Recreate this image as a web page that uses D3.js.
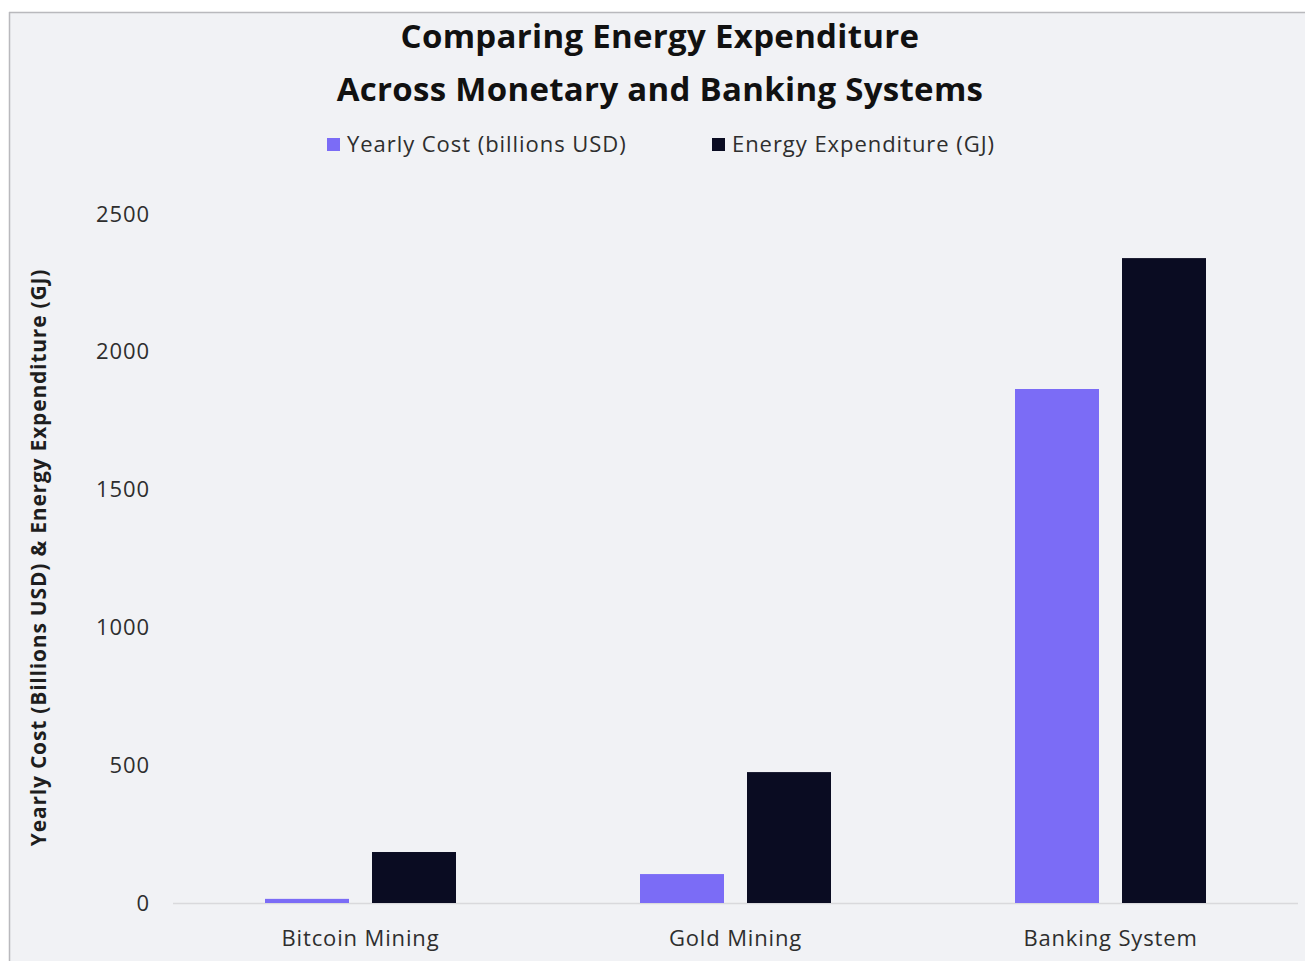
<!DOCTYPE html>
<html>
<head>
<meta charset="utf-8">
<script src="https://cdn.jsdelivr.net/npm/d3@7"></script>
<style>
  html, body { margin: 0; padding: 0; background: #ffffff; }
  svg { display: block; }
</style>
</head>
<body>
<svg id="chart" width="1305" height="961"></svg>
<script>
// Chart data
const categories = ["Bitcoin Mining", "Gold Mining", "Banking System"];
const seriesNames = ["Yearly Cost (billions USD)", "Energy Expenditure (GJ)"];
const yearlyCost = [15, 105, 1865];
const energyExpenditure = [185, 475, 2340];
const yTicks = [0, 500, 1000, 1500, 2000, 2500];
const titleLines = ["Comparing Energy Expenditure", "Across Monetary and Banking Systems"];
const yAxisTitle = "Yearly Cost (Billions USD) & Energy Expenditure (GJ)";

const colors = ["#7b6cf6", "#0a0c22"];
const W = 1305, H = 961;
const svg = d3.select("#chart");

// Panel background with thin frame on top and left
svg.append("rect").attr("x", 9).attr("y", 12).attr("width", W - 9).attr("height", H - 12)
  .attr("fill", "#f1f2f5");
svg.append("line").attr("x1", 9).attr("x2", W).attr("y1", 12.5).attr("y2", 12.5)
  .attr("stroke", "#b9b9bd").attr("stroke-width", 1.5);
svg.append("line").attr("x1", 9.5).attr("x2", 9.5).attr("y1", 12).attr("y2", H)
  .attr("stroke", "#b9b9bd").attr("stroke-width", 1.5);

const font = "'Open Sans', 'Noto Sans', sans-serif";
const margin = { left: 173, right: 7, top: 214, bottom: 58 };

const x0 = d3.scaleBand().domain(categories)
  .range([margin.left, W - margin.right]).paddingInner(0).paddingOuter(0);
const x1 = d3.scaleBand().domain(seriesNames)
  .range([0, 191]).paddingInner(0.215);
const y = d3.scaleLinear().domain([0, 2500]).range([H - margin.bottom, margin.top]);

// Title
svg.append("g").selectAll("text").data(titleLines).join("text")
  .attr("x", 660).attr("y", (d, i) => 48 + i * 53)
  .attr("text-anchor", "middle")
  .attr("font-family", font).attr("font-weight", 700).attr("font-size", 33)
  .attr("letter-spacing", 0.3)
  .attr("fill", "#111111").text(d => d);

// Legend
const legendX = [327, 712];
const legend = svg.append("g").selectAll("g").data(seriesNames).join("g")
  .attr("transform", (d, i) => `translate(${legendX[i]},138)`);
legend.append("rect").attr("width", 13).attr("height", 13).attr("fill", (d, i) => colors[i]);
legend.append("text").attr("x", 20).attr("y", 14)
  .attr("font-family", font).attr("font-size", 22).attr("font-weight", 500)
  .attr("letter-spacing", 0.95).attr("fill", "#2e2e2e").text(d => d);

// Y axis labels (no axis line, no ticks)
const yAxis = d3.axisLeft(y).tickValues(yTicks).tickSize(0).tickPadding(0).tickFormat(d3.format("d"));
const gy = svg.append("g").attr("transform", "translate(150,0)").call(yAxis);
gy.select(".domain").remove();
gy.selectAll("text").attr("font-family", font).attr("font-size", 22).attr("font-weight", 500)
  .attr("letter-spacing", 0.9).attr("fill", "#2e2e2e")
  .attr("dy", "0.32em");

// Y axis title
svg.append("text")
  .attr("transform", `translate(46,${(270 + 845) / 2}) rotate(-90)`)
  .attr("text-anchor", "middle")
  .attr("font-family", font).attr("font-weight", 700).attr("font-size", 21)
  .attr("letter-spacing", 0.8)
  .attr("fill", "#1e1e1e").text(yAxisTitle);

// Baseline
svg.append("line").attr("x1", margin.left).attr("x2", W - margin.right)
  .attr("y1", y(0) + 0.5).attr("y2", y(0) + 0.5)
  .attr("stroke", "#d9d9dc").attr("stroke-width", 1.5);

// Bars
const rows = categories.map((c, i) => ({ cat: c, vals: [yearlyCost[i], energyExpenditure[i]] }));
const groupOffset = (x0.bandwidth() - 191) / 2;
const groups = svg.append("g").selectAll("g").data(rows).join("g")
  .attr("transform", d => `translate(${x0(d.cat) + groupOffset},0)`);
groups.selectAll("rect").data(d => d.vals.map((v, k) => ({ s: seriesNames[k], v, k }))).join("rect")
  .attr("x", d => x1(d.s)).attr("width", x1.bandwidth())
  .attr("y", d => y(d.v)).attr("height", d => y(0) - y(d.v))
  .attr("fill", d => colors[d.k]);

// X axis labels
const xAxis = d3.axisBottom(x0).tickSize(0).tickPadding(0);
const gx = svg.append("g").attr("transform", `translate(0,${y(0)})`).call(xAxis);
gx.select(".domain").remove();
gx.selectAll("text").attr("font-family", font).attr("font-size", 22).attr("font-weight", 500)
  .attr("letter-spacing", 0.85).attr("fill", "#2e2e2e")
  .attr("dy", "0").attr("y", 43);
</script>
</body>
</html>
